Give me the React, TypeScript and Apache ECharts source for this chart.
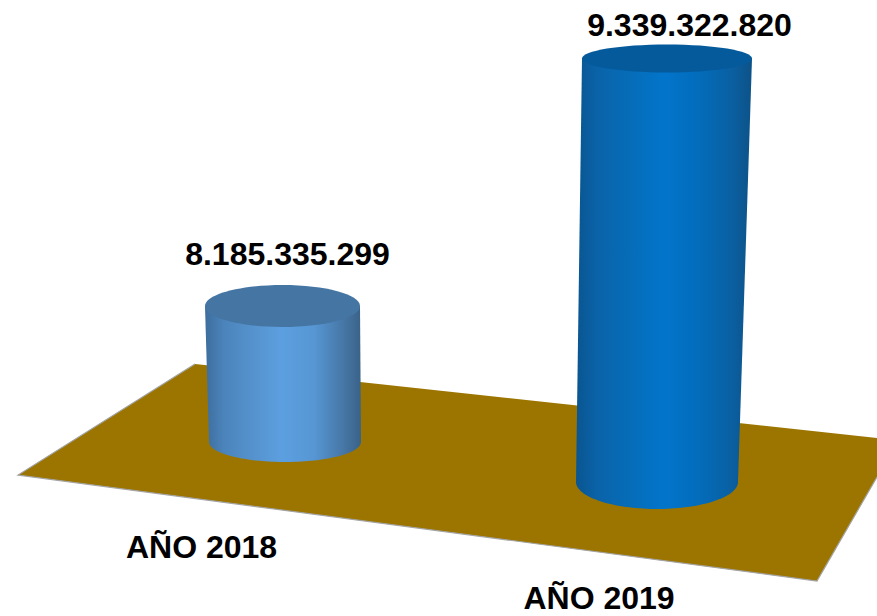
import React, { useEffect, useRef } from "react";
import * as echarts from "echarts";

const categories = ["AÑO 2018", "AÑO 2019"];
const values = [8185335299, 9339322820];
const yMin = 6739935620;
const yMax = 9612083620;

const shapes = [
  {
    topRx: 77.5, topRy: 21, baseDx: 2.5, baseY: 442, baseRx: 76, baseRy: 20,
    top: "#4575a3",
    side: [
      [0, "#3d6d9d"], [0.12, "#4b84bb"], [0.3, "#5592cd"], [0.5, "#5c9fe0"],
      [0.7, "#5696d3"], [0.88, "#4778a8"], [1, "#3a6288"],
    ],
    labelDx: 5, labelY: 254, catX: 201.5, catY: 547,
  },
  {
    topRx: 85, topRy: 14, baseDx: -10, baseY: 482, baseRx: 81, baseRy: 27,
    top: "#055a9c",
    side: [
      [0, "#0a5590"], [0.12, "#0a63a8"], [0.3, "#066cb8"], [0.5, "#0275cb"],
      [0.7, "#036cbb"], [0.88, "#0a60a2"], [1, "#0d5288"],
    ],
    labelDx: 22.5, labelY: 25, catX: 599, catY: 598,
  },
];

const formatValue = (v: number) => String(v).replace(/\B(?=(\d{3})+$)/g, ".");

function renderCylinder(params: any, api: any) {
  const i = params.dataIndex;
  const s = shapes[i];
  const [cx, cy] = api.coord([api.value(0), api.value(1)]);
  const bx = cx + s.baseDx;
  const pts: number[][] = [[cx - s.topRx, cy], [cx + s.topRx, cy]];
  const n = 72;
  for (let k = 0; k <= n; k++) {
    const a = (Math.PI * k) / n;
    pts.push([bx + s.baseRx * Math.cos(a), s.baseY + s.baseRy * Math.sin(a)]);
  }
  const font = "bold 32px 'Liberation Sans', Arial, sans-serif";
  return {
    type: "group",
    children: [
      {
        type: "polygon",
        shape: { points: pts },
        style: {
          fill: new echarts.graphic.LinearGradient(0, 0, 1, 0,
            s.side.map(([offset, color]) => ({ offset: offset as number, color: color as string }))),
        },
      },
      { type: "ellipse", shape: { cx, cy, rx: s.topRx, ry: s.topRy }, style: { fill: s.top } },
      { type: "text", style: { text: formatValue(values[i]), x: cx + s.labelDx, y: s.labelY, font, fill: "#000", align: "center", verticalAlign: "middle" } },
      { type: "text", style: { text: categories[i], x: s.catX, y: s.catY, font, fill: "#000", align: "center", verticalAlign: "middle" } },
    ],
  };
}

export default function App() {
  const ref = useRef<HTMLDivElement>(null);
  useEffect(() => {
    const chart = echarts.init(ref.current!, null, { renderer: "svg" });
    chart.setOption({
      animation: false,
      backgroundColor: "#ffffff",
      grid: { left: 90.25, width: 769, top: 0, height: 616 },
      xAxis: { type: "category", data: categories, show: false },
      yAxis: { type: "value", min: yMin, max: yMax, show: false },
      graphic: {
        elements: [
          {
            type: "polygon",
            z: 0,
            shape: { points: [[18, 475], [195, 364], [877, 438], [877, 477], [817, 581]] },
            style: { fill: "#9c7500" },
          },
          {
            type: "polyline",
            z: 0,
            shape: { points: [[195, 364], [18, 475], [817, 581], [877, 477]] },
            style: { stroke: "#a3a3a3", lineWidth: 1.2, fill: "none" },
          },
        ],
      },
      series: [
        {
          type: "custom",
          renderItem: renderCylinder,
          clip: false,
          data: categories.map((c, i) => [c, values[i]]),
          encode: { x: 0, y: 1 },
        },
      ],
    });
    return () => chart.dispose();
  }, []);
  return <div ref={ref} style={{ position: "fixed", left: 0, top: 0, width: 877, height: 616 }} />;
}
